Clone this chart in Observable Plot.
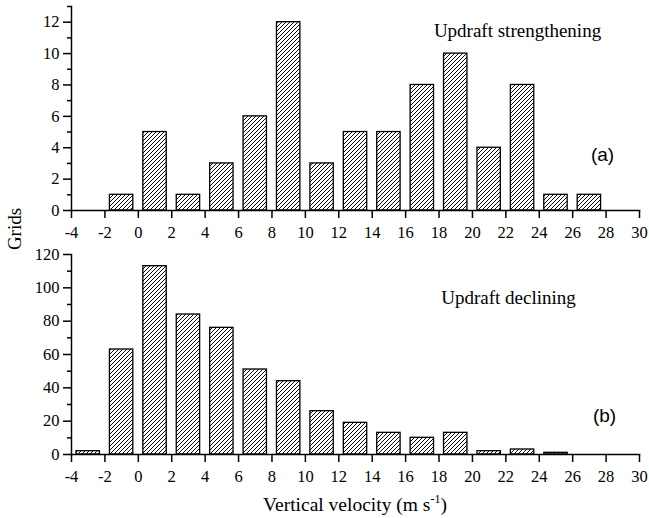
<!DOCTYPE html>
<html>
<head>
<meta charset="utf-8">
<script src="https://cdn.jsdelivr.net/npm/d3@7"></script>
<script src="https://cdn.jsdelivr.net/npm/@observablehq/plot@0.6"></script>
<style>
  body { margin: 0; background: #fff; }
  #wrap { position: relative; width: 649px; height: 518px; font-family: 'Liberation Serif', 'DejaVu Serif', serif; }
  #wrap svg { position: absolute; left: 0; overflow: visible; z-index: 1; }
  #ylab { position: absolute; left: 15px; top: 229px; transform: translate(-50%, -50%) rotate(-90deg); font-size: 19px; white-space: nowrap; z-index: 5; }
</style>
</head>
<body>
<div id="wrap"><div id="ylab">Grids</div></div>
<script>
// bin centres (m s^-1), bin width 2
const centers = [-3, -1, 1, 3, 5, 7, 9, 11, 13, 15, 17, 19, 21, 23, 25, 27];
const strengthening = [0, 1, 5, 1, 3, 6, 12, 3, 5, 5, 8, 10, 4, 8, 1, 1];
const declining = [2, 63, 113, 84, 76, 51, 44, 26, 19, 13, 10, 13, 2, 3, 1, 0];
const xTicks = [-4, -2, 0, 2, 4, 6, 8, 10, 12, 14, 16, 18, 20, 22, 24, 26, 28, 30];
const yTicksA = [0, 2, 4, 6, 8, 10, 12];
const yMinorA = [1, 3, 5, 7, 9, 11, 13];
const yTicksB = [0, 20, 40, 60, 80, 100, 120];
const yMinorB = [10, 30, 50, 70, 90, 110];

const SERIF = "'Liberation Serif', 'DejaVu Serif', serif";
const SANS = "'Liberation Sans', Arial, sans-serif";
const barWidth = 1.4;
function rows(vals) {
  return centers.map((c, i) => ({c, v: vals[i]})).filter(d => d.v > 0);
}

function addHatch(svg, id) {
  const defs = d3.select(svg).insert("defs", ":first-child");
  const p = defs.append("pattern").attr("id", id)
    .attr("patternUnits", "userSpaceOnUse").attr("width", 4).attr("height", 4);
  p.append("rect").attr("width", 4).attr("height", 4).attr("fill", "white");
  p.append("path").attr("d", "M-1,1 l2,-2 M0,4 l4,-4 M3,5 l2,-2")
    .attr("stroke", "black").attr("stroke-width", 0.95);
}

function panel(vals, yDomain, yTicks, yMinor, hatchId, title, tag, opts) {
  const svg = Plot.plot({
    width: 649,
    height: opts.height,
    marginLeft: 71,
    marginRight: 10,
    marginTop: opts.marginTop,
    marginBottom: opts.marginBottom,
    style: {fontFamily: SERIF, fontSize: "16px", color: "black", background: "transparent"},
    x: {domain: [-4, 30]},
    y: {domain: yDomain},
    marks: [
      Plot.rectY(rows(vals), {x1: d => d.c - barWidth / 2, x2: d => d.c + barWidth / 2, y: "v",
        fill: `url(#${hatchId})`, stroke: "black", strokeWidth: 1.3}),
      Plot.axisX({ticks: xTicks, tickSize: 8, tickPadding: 8, tickFormat: d => String(d), label: null, strokeWidth: 1.5, fontSize: 16.5, fontFamily: SERIF}),
      Plot.axisY({ticks: yTicks, tickSize: 8, tickPadding: 4, tickFormat: d => String(d), label: null, strokeWidth: 1.5, fontSize: 16.5, fontFamily: SERIF}),
      Plot.axisY({ticks: yMinor, tickSize: 4, text: null, label: null, strokeWidth: 1.5}),
      Plot.frame({anchor: "left", strokeWidth: 1.5}),
      Plot.frame({anchor: "bottom", strokeWidth: 1.5}),
      Plot.text([title], {frameAnchor: "top-right", dx: opts.titleDx, dy: opts.titleDy, fontSize: 19, textAnchor: "middle", fontFamily: SERIF}),
      Plot.text([tag], {frameAnchor: "top-right", dx: opts.tagDx, dy: opts.tagDy, fontSize: 19, textAnchor: "middle", fontFamily: SANS})
    ]
  });
  addHatch(svg, hatchId);
  return svg;
}

const wrap = document.getElementById("wrap");

const top1 = panel(strengthening, [0, 13], yTicksA, yMinorA, "hatchA", "Updraft strengthening", "(a)",
  {height: 240, marginTop: 6, marginBottom: 30, titleDx: -122, titleDy: 17, tagDx: -37, tagDy: 141});
top1.style.top = "0px";
wrap.appendChild(top1);

const bot = panel(declining, [0, 120], yTicksB, yMinorB, "hatchB", "Updraft declining", "(b)",
  {height: 278, marginTop: 14, marginBottom: 64, titleDx: -131, titleDy: 36, tagDx: -35, tagDy: 154});
bot.style.top = "240px";
wrap.appendChild(bot);

// x-axis title with superscript
const t = d3.select(bot).append("text")
  .attr("x", (71 + 639) / 2).attr("y", 271)
  .attr("text-anchor", "middle")
  .attr("font-size", 19.5)
  .style("font-family", SERIF)
  .attr("fill", "black");
t.append("tspan").text("Vertical velocity (m s");
t.append("tspan").attr("font-size", 12).attr("dy", -8).text("-1");
t.append("tspan").attr("dy", 8).text(")");
</script>
</body>
</html>
